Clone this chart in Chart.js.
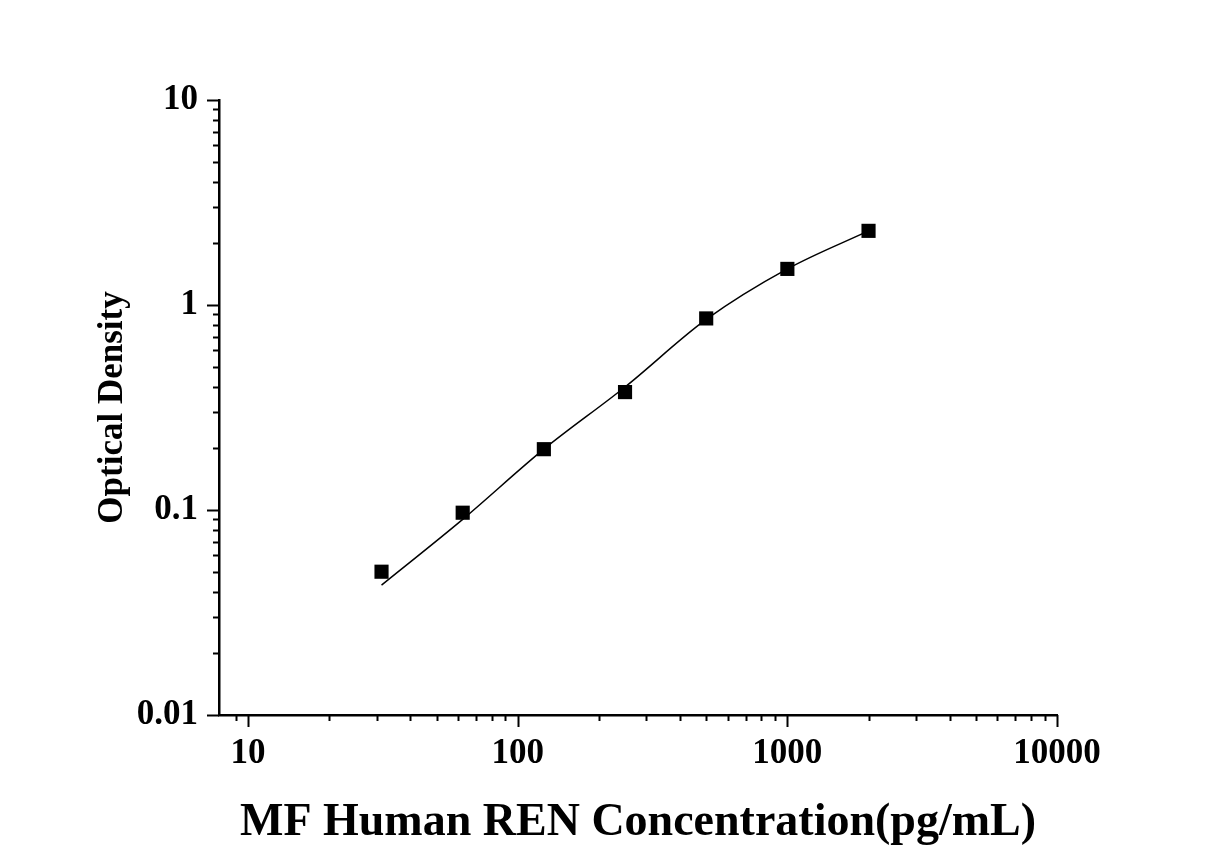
<!DOCTYPE html>
<html>
<head>
<meta charset="utf-8">
<title>MF Human REN standard curve</title>
<script src="https://cdn.jsdelivr.net/npm/chart.js@4/dist/chart.umd.min.js"></script>
<style>
  html, body { margin: 0; padding: 0; background: #fff; }
  #curve { display: block; }
</style>
</head>
<body>
<canvas id="curve" width="1227" height="858"></canvas>
<script>
// standard concentrations (pg/mL) and OD
var concentrations = [31.25, 62.5, 125, 250, 500, 1000, 2000];
var measuredOD = [0.050, 0.097, 0.198, 0.376, 0.860, 1.50, 2.30];
var fittedOD = [0.043, 0.090, 0.198, 0.398, 0.850, 1.50, 2.30];

var xTitle = 'MF Human REN Concentration(pg/mL)';
var yTitle = 'Optical Density';
var serif = "'Liberation Serif', 'Times New Roman', serif";

function isDecade(v){
	var l = Math.log10(v);
	return Math.abs(l - Math.round(l)) < 1e-9;
}
function isWhole(v){
	// 2,3..9 times a power of ten
	var p = Math.pow(10, Math.floor(Math.log10(v) + 1e-9));
	var m = v / p;
	return Math.abs(m - Math.round(m)) < 1e-6;
}

var measured = [], fitted = [];
for(var i=0; i<concentrations.length; i++){
	measured.push({x: concentrations[i], y: measuredOD[i]});
	fitted.push({x: concentrations[i], y: fittedOD[i]});
}

// outward tick marks, long on decades and short in between
var tickMarks = {
	id: 'tickMarks',
	afterDraw: function(chart){
		var ctx = chart.ctx, area = chart.chartArea;
		ctx.save();
		ctx.strokeStyle = '#000';
		ctx.lineWidth = 2;
		chart.scales.x.ticks.forEach(function(t){
			if(!isWhole(t.value)) return;
			var px = Math.round(chart.scales.x.getPixelForValue(t.value)) + 0.5;
			var len = isDecade(t.value) ? 12 : 6;
			ctx.beginPath();
			ctx.moveTo(px, area.bottom);
			ctx.lineTo(px, area.bottom + len);
			ctx.stroke();
		});
		chart.scales.y.ticks.forEach(function(t){
			if(!isWhole(t.value)) return;
			var py = Math.round(chart.scales.y.getPixelForValue(t.value)) + 0.5;
			var len = isDecade(t.value) ? 12 : 6;
			ctx.beginPath();
			ctx.moveTo(area.left, py);
			ctx.lineTo(area.left - len, py);
			ctx.stroke();
		});
		ctx.restore();
	}
};

new Chart(document.getElementById('curve'), {
	type: 'scatter',
	data: {
		datasets: [
			{
				label: 'Fit',
				type: 'line',
				data: fitted,
				borderColor: '#000',
				borderWidth: 1.5,
				pointRadius: 0,
				fill: false,
				cubicInterpolationMode: 'monotone'
			},
			{
				label: 'Standards',
				data: measured,
				pointStyle: 'rect',
				pointRadius: 10,
				backgroundColor: '#000',
				borderColor: '#000',
				borderWidth: 0
			}
		]
	},
	options: {
		responsive: false,
		animation: false,
		devicePixelRatio: 1,
		layout: { padding: { top: 100, right: 170, left: 0, bottom: 0 } },
		plugins: {
			legend: { display: false },
			tooltip: { enabled: false }
		},
		scales: {
			x: {
				type: 'logarithmic',
				min: 7.8,
				max: 10000,
				grid: { display: false, drawTicks: false },
				border: { display: true, color: '#000', width: 2.5 },
				ticks: {
					autoSkip: false,
					maxRotation: 0,
					padding: 18,
					color: '#000',
					font: { family: serif, size: 35, weight: 'bold' },
					callback: function(v){ return isDecade(v) ? String(v) : ''; }
				},
				title: {
					display: true,
					text: xTitle,
					color: '#000',
					font: { family: serif, size: 46, weight: 'bold' },
					padding: { top: 0, bottom: 7 }
				},
				afterFit: function(scale){ scale.height = 143; }
			},
			y: {
				type: 'logarithmic',
				min: 0.01,
				max: 10,
				grid: { display: false, drawTicks: false },
				border: { display: true, color: '#000', width: 2.5 },
				ticks: {
					autoSkip: false,
					padding: 21,
					color: '#000',
					font: { family: serif, size: 35, weight: 'bold' },
					callback: function(v){ return isDecade(v) ? String(v) : ''; }
				},
				title: {
					display: true,
					text: yTitle,
					color: '#000',
					font: { family: serif, size: 35, weight: 'bold' },
					padding: { top: 92, bottom: 0 }
				},
				afterFit: function(scale){ scale.width = 219; }
			}
		}
	},
	plugins: [tickMarks]
});
</script>
</body>
</html>
